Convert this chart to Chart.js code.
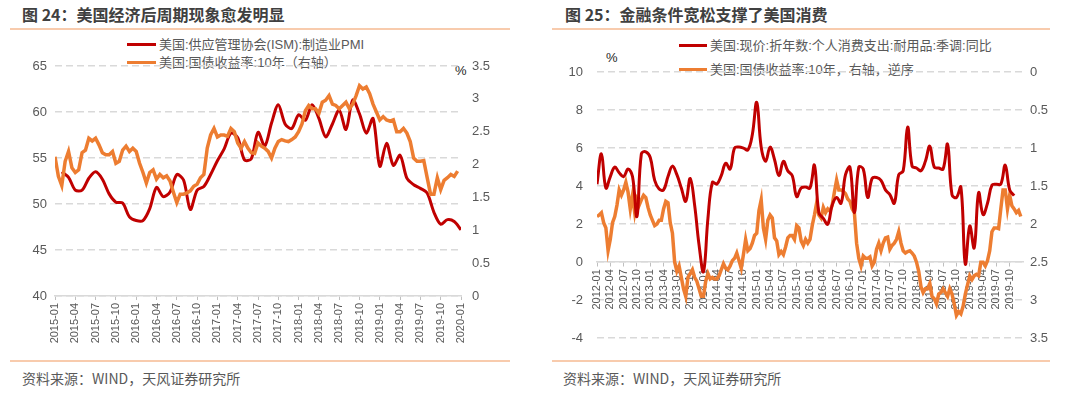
<!DOCTYPE html>
<html>
<head>
<meta charset="utf-8">
<script src="https://cdn.jsdelivr.net/npm/chart.js@4.4.1/dist/chart.umd.min.js"></script>
<style>
  body { margin: 0; width: 1080px; height: 394px; background: #fff; position: relative; overflow: hidden;
         font-family: "Liberation Sans", "Noto Sans CJK SC", sans-serif; }
  .abs { position: absolute; white-space: nowrap; }
  .title { font-family: "Noto Sans CJK SC", sans-serif; font-size: 16px; font-weight: bold; color: #404040; line-height: 20px; top: 4px; }
  .rule { height: 2px; background: #f8cbad; }
  .legend { font-size: 13px; color: #595959; line-height: 16px; }
  .swatch { display: inline-block; height: 3px; vertical-align: middle; margin-right: 3px; position: relative; top: -1px; }
  .source { font-family: "Noto Sans CJK SC", sans-serif; font-size: 14px; color: #595959; line-height: 16px; top: 370px; }
  .unit { font-size: 13px; color: #262626; line-height: 16px; }
  canvas { position: absolute; top: 0; }
</style>
</head>
<body>
<div class="abs title" style="left:22px">图 24：美国经济后周期现象愈发明显</div>
<div class="abs rule" style="left:10px; width:500px; top:28px"></div>
<div class="abs legend" style="left:127px; top:37px"><span class="swatch" style="width:29px; background:#c00000"></span>美国:供应管理协会(ISM):制造业PMI</div>
<div class="abs legend" style="left:127px; top:55px"><span class="swatch" style="width:29px; background:#ed7d31"></span>美国:国债收益率:10年（右轴）</div>
<div class="abs unit" style="left:455px; top:63px">%</div>
<canvas id="leftChart" width="500" height="360" style="left:0"></canvas>
<div class="abs rule" style="left:10px; width:500px; top:360px"></div>
<div class="abs source" style="left:22px">资料来源：WIND，天风证券研究所</div>

<div class="abs title" style="left:565px">图 25：金融条件宽松支撑了美国消费</div>
<div class="abs rule" style="left:552px; width:498px; top:28px"></div>
<div class="abs legend" style="left:679px; top:38px"><span class="swatch" style="width:28px; background:#c00000"></span>美国:现价:折年数:个人消费支出:耐用品:季调:同比</div>
<div class="abs legend" style="left:679px; top:62px"><span class="swatch" style="width:28px; background:#ed7d31"></span>美国:国债收益率:10年，右轴，逆序</div>
<div class="abs unit" style="left:606px; top:50px">%</div>
<canvas id="rightChart" width="540" height="360" style="left:540px"></canvas>
<div class="abs rule" style="left:552px; width:498px; top:360px"></div>
<div class="abs source" style="left:563px">资料来源：WIND，天风证券研究所</div>

<script>
// ISM manufacturing PMI, monthly 2015-01 .. 2019-12 (plotted at month end)
const pmiValues = [
  53.5, 52.9, 51.5, 51.5, 52.8, 53.5, 52.7, 51.1, 50.2, 50.1, 48.6, 48.2,
  48.2, 49.5, 51.8, 50.8, 51.3, 53.2, 52.6, 49.4, 51.5, 51.9, 53.2, 54.7,
  56.0, 57.7, 57.2, 54.8, 54.9, 57.8, 56.3, 58.8, 60.8, 58.7, 58.2, 59.7,
  59.1, 60.8, 59.3, 57.3, 58.7, 60.2, 58.1, 61.3, 59.8, 57.7, 59.3, 54.1,
  56.6, 54.2, 55.3, 52.8, 52.1, 51.7, 51.2, 49.1, 47.8, 48.3, 48.1, 47.2
];

// PCE durable goods, nominal SAAR, yoy %, monthly 2012-01 .. 2019-11
const pceDurableYoY = [
  4.1, 5.7, 3.9, 4.5, 5.0, 4.7, 4.5, 4.9, 4.5, 2.4, 5.7, 5.8,
  5.5, 4.3, 3.85, 3.8, 4.5, 5.05, 4.6, 3.9, 3.2, 4.4, 3.0, 0.9,
  -0.5, 2.3, 4.2, 4.1, 4.55, 5.2, 4.9, 6.0, 6.05, 6.0, 5.9, 6.7,
  8.4, 6.05, 5.3, 6.05, 5.4, 4.55, 5.3, 4.8, 4.55, 3.45, 3.9, 3.95,
  3.9, 5.1, 2.6, 2.3, 2.0, 3.0, 3.4, 3.1, 4.6, 5.0, 2.6, 5.0,
  4.9, 3.4, 4.4, 4.45, 4.3, 3.8, 3.55, 3.1, 4.6, 4.8, 7.1, 5.05,
  4.95, 4.8, 5.3, 6.1, 5.0, 4.95, 4.9, 6.2, 3.55, 3.4, 3.95, -0.1,
  1.9, 0.75, 3.65, 2.5, 3.1, 4.05, 4.1, 4.1, 5.1, 3.8, 3.5
];

// US 10y treasury yield %, two readings per month, 2012-01 .. 2019-12
const ust10y = [
  1.90, 1.88, 1.85, 1.98, 2.05, 2.35, 2.20, 1.98, 1.90, 1.75, 1.55, 1.62,
  1.55, 1.45, 1.58, 1.80, 1.62, 1.85, 1.68, 1.75, 1.68, 1.62, 1.65, 1.78,
  1.88, 1.95, 2.02, 2.00, 1.95, 1.95, 1.80, 1.70, 1.72, 1.98, 2.12, 2.50,
  2.62, 2.55, 2.70, 2.85, 2.95, 2.70, 2.65, 2.60, 2.70, 2.75, 2.85, 2.95,
  2.95, 2.75, 2.65, 2.72, 2.70, 2.72, 2.72, 2.68, 2.60, 2.52, 2.58, 2.60,
  2.55, 2.48, 2.45, 2.38, 2.48, 2.58, 2.40, 2.20, 2.35, 2.32, 2.25, 2.15,
  2.12, 1.82, 1.68, 2.05, 2.20, 1.95, 1.88, 1.92, 2.18, 2.22, 2.40, 2.36,
  2.40, 2.30, 2.18, 2.15, 2.15, 2.20, 2.02, 2.05, 2.22, 2.28, 2.20, 2.25,
  2.20, 2.02, 1.88, 1.72, 1.88, 1.92, 1.78, 1.85, 1.80, 1.83, 1.75, 1.58,
  1.42, 1.55, 1.55, 1.57, 1.60, 1.67, 1.70, 1.80, 1.85, 2.25, 2.45, 2.55,
  2.42, 2.45, 2.45, 2.43, 2.55, 2.50, 2.33, 2.25, 2.35, 2.25, 2.18, 2.17,
  2.33, 2.28, 2.25, 2.20, 2.10, 2.25, 2.35, 2.38, 2.36, 2.35, 2.38, 2.42,
  2.50, 2.62, 2.82, 2.90, 2.85, 2.85, 2.78, 2.95, 2.98, 3.05, 2.92, 2.90,
  2.85, 2.90, 2.95, 2.85, 2.92, 3.05, 3.20, 3.15, 3.18, 3.08, 2.92, 2.80,
  2.68, 2.73, 2.68, 2.66, 2.68, 2.50, 2.50, 2.55, 2.48, 2.35, 2.10, 2.05,
  2.05, 2.06, 1.80, 1.55, 1.55, 1.80, 1.62, 1.76, 1.80, 1.85, 1.82, 1.90
];

const leftTickLabels = [
  "2015-01", "2015-04", "2015-07", "2015-10", "2016-01", "2016-04", "2016-07",
  "2016-10", "2017-01", "2017-04", "2017-07", "2017-10", "2018-01", "2018-04",
  "2018-07", "2018-10", "2019-01", "2019-04", "2019-07", "2019-10", "2020-01"
];
const rightTickLabels = [
  "2012-01", "2012-04", "2012-07", "2012-10", "2013-01", "2013-04", "2013-07", "2013-10",
  "2014-01", "2014-04", "2014-07", "2014-10", "2015-01", "2015-04", "2015-07", "2015-10",
  "2016-01", "2016-04", "2016-07", "2016-10", "2017-01", "2017-04", "2017-07", "2017-10",
  "2018-01", "2018-04", "2018-07", "2018-10", "2019-01", "2019-04", "2019-07", "2019-10"
];

const RED = "#c00000";
const ORANGE = "#ed7d31";
const TEXT = "#595959";
const GRID = "#d9d9d9";

function monthIndex(label, startYear) {
    const [y, m] = label.split("-").map(Number);
    return (y - startYear) * 12 + (m - 1);
}

function dateAxis(labels, startYear, max, extra) {
    const values = labels.map(l => monthIndex(l, startYear));
    return Object.assign({
        type: "linear",
        min: 0,
        max: max,
        afterBuildTicks: (scale) => { scale.ticks = values.map(v => ({ value: v })); },
        ticks: {
            autoSkip: false, minRotation: 90, maxRotation: 90, padding: 3,
            color: TEXT, font: { size: 11 },
            callback: (v) => labels[values.indexOf(v)] || ""
        },
        grid: { drawOnChartArea: false, drawTicks: true, tickLength: 4, color: "#bfbfbf" },
        border: { display: true, color: GRID, width: 1.5 }
    }, extra);
}

function valueAxis(position, min, max, step, padding, width, extra) {
    return Object.assign({
        position: position,
        min: min,
        max: max,
        ticks: {
            stepSize: step, padding: padding, color: TEXT, font: { size: 13 },
            callback: (v) => String(Number(v.toFixed(2)))
        },
        grid: { drawOnChartArea: position === "left", drawTicks: false, color: GRID, lineWidth: 1.5 },
        border: { display: false, dash: [7, 4] },
        afterFit: (scale) => { scale.width = width; }
    }, extra);
}

const baseOptions = {
    responsive: false,
    animation: false,
    plugins: { legend: { display: false }, tooltip: { enabled: false } },
    elements: { point: { radius: 0 } }
};

// left chart: PMI vs 10y yield
new Chart(document.getElementById("leftChart"), {
    type: "line",
    data: {
        datasets: [
            {
                label: "美国:国债收益率:10年（右轴）",
                data: ust10y.slice(72).map((v, i) => ({ x: i / 2, y: v })),
                yAxisID: "y1", borderColor: ORANGE, borderWidth: 3.5, tension: 0, order: 0
            },
            {
                label: "美国:供应管理协会(ISM):制造业PMI",
                data: pmiValues.map((v, i) => ({ x: i + 1, y: v })),
                yAxisID: "y", borderColor: RED, borderWidth: 3, tension: 0.3, order: 1
            }
        ]
    },
    options: Object.assign({}, baseOptions, {
        layout: { padding: { top: 66, left: 0, right: 0, bottom: 0 } },
        scales: {
            x: dateAxis(leftTickLabels, 2015, 60, { afterFit: (s) => { s.height = 64; } }),
            y: valueAxis("left", 40, 65, 5, 8, 55),
            y1: valueAxis("right", 0, 3.5, 0.5, 11, 39)
        }
    })
});

// right chart: durable goods consumption vs 10y yield (inverted)
new Chart(document.getElementById("rightChart"), {
    type: "line",
    data: {
        datasets: [
            {
                label: "美国:现价:折年数:个人消费支出:耐用品:季调:同比",
                data: pceDurableYoY.map((v, i) => ({ x: i, y: v })),
                yAxisID: "y", borderColor: RED, borderWidth: 3, tension: 0.4, order: 0
            },
            {
                label: "美国:国债收益率:10年，右轴，逆序",
                data: ust10y.map((v, i) => ({ x: i / 2, y: v })),
                yAxisID: "y1", borderColor: ORANGE, borderWidth: 3.5, tension: 0, order: 1
            }
        ]
    },
    options: Object.assign({}, baseOptions, {
        layout: { padding: { top: 72, left: 0, right: 0, bottom: 11 } },
        scales: {
            x: dateAxis(rightTickLabels, 2012, 96, { position: { y: 0 } }),
            y: valueAxis("left", -4, 10, 2, 14, 57),
            y1: valueAxis("right", 0, 3.5, 0.5, 7, 57, { reverse: true })
        }
    })
});
</script>
</body>
</html>
